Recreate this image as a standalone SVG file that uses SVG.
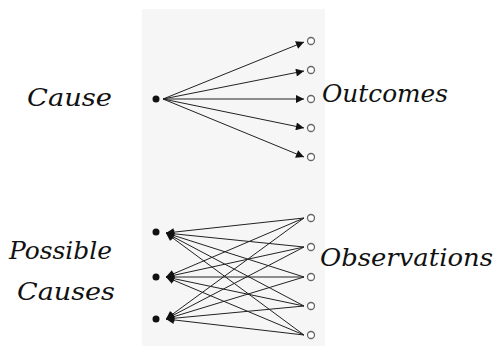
<svg xmlns="http://www.w3.org/2000/svg" width="496" height="347" viewBox="0 0 496 347">
<style>
.lbl{font-family:"DejaVu Serif","Liberation Serif",serif;font-style:italic;font-size:25px;fill:#111}
.src{fill:#111}
.dst{fill:#fff;stroke:#666;stroke-width:1.3}
.ln{stroke:#222;stroke-width:1;fill:none;marker-end:url(#ah)}
</style>
<defs>
<marker id="ah" viewBox="0 0 10 10" refX="10" refY="5" markerWidth="10" markerHeight="8" markerUnits="userSpaceOnUse" orient="auto">
<path d="M0,0 L10,5 L0,10 z" fill="#111"/>
</marker>
</defs>
<rect x="142" y="9" width="183" height="337" fill="#f6f6f6"/>
<g id="connectors">
<line class="ln" x1="163" y1="99" x2="304" y2="42"/>
<line class="ln" x1="163" y1="99" x2="304" y2="71"/>
<line class="ln" x1="163" y1="99" x2="304" y2="99"/>
<line class="ln" x1="163" y1="99" x2="304" y2="128"/>
<line class="ln" x1="163" y1="99" x2="304" y2="157"/>
<line class="ln" x1="304" y1="218" x2="166" y2="233"/>
<line class="ln" x1="304" y1="218" x2="166" y2="277"/>
<line class="ln" x1="304" y1="218" x2="166" y2="319"/>
<line class="ln" x1="304" y1="247" x2="166" y2="233"/>
<line class="ln" x1="304" y1="247" x2="166" y2="277"/>
<line class="ln" x1="304" y1="247" x2="166" y2="319"/>
<line class="ln" x1="304" y1="277" x2="166" y2="233"/>
<line class="ln" x1="304" y1="277" x2="166" y2="277"/>
<line class="ln" x1="304" y1="277" x2="166" y2="319"/>
<line class="ln" x1="304" y1="306" x2="166" y2="233"/>
<line class="ln" x1="304" y1="306" x2="166" y2="277"/>
<line class="ln" x1="304" y1="306" x2="166" y2="319"/>
<line class="ln" x1="304" y1="335" x2="166" y2="233"/>
<line class="ln" x1="304" y1="335" x2="166" y2="277"/>
<line class="ln" x1="304" y1="335" x2="166" y2="319"/>
</g>
<g id="cause"><circle class="src" cx="156" cy="99" r="3.5"/></g>
<g id="outcome1"><circle class="dst" cx="311" cy="41" r="3.5"/></g>
<g id="outcome2"><circle class="dst" cx="311" cy="70" r="3.5"/></g>
<g id="outcome3"><circle class="dst" cx="311" cy="99" r="3.5"/></g>
<g id="outcome4"><circle class="dst" cx="311" cy="128" r="3.5"/></g>
<g id="outcome5"><circle class="dst" cx="311" cy="157" r="3.5"/></g>
<g id="pcause1"><circle class="src" cx="156" cy="232" r="3.5"/></g>
<g id="pcause2"><circle class="src" cx="156" cy="277" r="3.5"/></g>
<g id="pcause3"><circle class="src" cx="156" cy="319" r="3.5"/></g>
<g id="obs1"><circle class="dst" cx="311" cy="218" r="3.5"/></g>
<g id="obs2"><circle class="dst" cx="311" cy="247" r="3.5"/></g>
<g id="obs3"><circle class="dst" cx="311" cy="277" r="3.5"/></g>
<g id="obs4"><circle class="dst" cx="311" cy="306" r="3.5"/></g>
<g id="obs5"><circle class="dst" cx="311" cy="335" r="3.5"/></g>
<g id="labels">
<text class="lbl" x="27" y="106" textLength="85" lengthAdjust="spacingAndGlyphs">Cause</text>
<text class="lbl" x="322" y="102" textLength="126" lengthAdjust="spacingAndGlyphs">Outcomes</text>
<text class="lbl" x="9" y="259" textLength="103" lengthAdjust="spacingAndGlyphs">Possible</text>
<text class="lbl" x="17" y="300" textLength="98" lengthAdjust="spacingAndGlyphs">Causes</text>
<text class="lbl" x="320" y="266" textLength="173" lengthAdjust="spacingAndGlyphs">Observations</text>
</g>
</svg>
